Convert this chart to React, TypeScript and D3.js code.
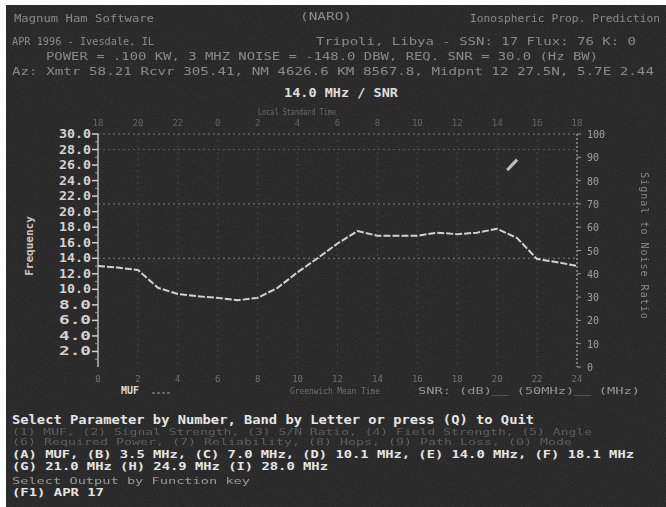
import * as d3 from "d3";

// MUF by UTC hour (MHz)
const hours = [0, 1, 2, 3, 4, 5, 6, 7, 8, 9, 10, 11, 12, 13, 14, 15, 16, 17, 18, 19, 20, 21, 22, 23, 24];
const mufValues = [13.0, 12.8, 12.5, 10.2, 9.4, 9.1, 8.9, 8.6, 8.9, 10.2, 12.2, 14.0, 15.9, 17.5, 16.9, 16.9, 16.9, 17.3, 17.1, 17.3, 17.8, 16.6, 13.9, 13.5, 13.0];

// fragment of the SNR trace (dB)
const snrHours = [20.5, 21.0];
const snrValues = [84.5, 89];

const freqTicks = [30, 28, 26, 24, 22, 20, 18, 16, 14, 12, 10, 8, 6, 4, 2];
const freqMinor = [29, 27, 25, 23, 21, 19, 17, 15, 13, 11, 9, 7, 5, 3, 1];
const snrTicks = [100, 90, 80, 70, 60, 50, 40, 30, 20, 10, 0];
const utcTicks = [0, 2, 4, 6, 8, 10, 12, 14, 16, 18, 20, 22, 24];
const localLabels = ["18", "20", "22", "0", "2", "4", "6", "8", "10", "12", "14", "16", "18"];
const gridFreqs = [30, 28, 21, 14];

const headerLines = [
  { text: "Magnum Ham Software", x: 14, y: 22, w: 140 },
  { text: "(NARO)", x: 300, y: 20, w: 52 },
  { text: "Ionospheric Prop. Prediction", x: 470, y: 22, w: 190 },
  { text: "APR 1996 - Ivesdale, IL", x: 12, y: 45, w: 142 },
  { text: "Tripoli, Libya - SSN: 17 Flux: 76 K: 0", x: 316, y: 45, w: 320 },
  { text: "POWER = .100 KW, 3 MHZ NOISE = -148.0 DBW, REQ. SNR = 30.0 (Hz BW)", x: 46, y: 60, w: 552 },
  { text: "Az: Xmtr 58.21 Rcvr 305.41, NM 4626.6 KM 8567.8, Midpnt 12 27.5N, 5.7E 2.44", x: 12, y: 75, w: 642 },
];

const footerLines = [
  { text: "Select Parameter by Number, Band by Letter or press (Q) to Quit", y: 424, w: 522, size: 12, kind: "bright" },
  { text: "(1) MUF, (2) Signal Strength, (3) S/N Ratio, (4) Field Strength, (5) Angle", y: 435, w: 580, size: 8.5, kind: "faint" },
  { text: "(6) Required Power, (7) Reliability, (8) Hops, (9) Path Loss, (0) Mode", y: 445, w: 560, size: 8.5, kind: "faint" },
  { text: "(A) MUF, (B) 3.5 MHz, (C) 7.0 MHz, (D) 10.1 MHz, (E) 14.0 MHz, (F) 18.1 MHz", y: 458, w: 622, size: 11, kind: "bright" },
  { text: "(G) 21.0 MHz (H) 24.9 MHz (I) 28.0 MHz", y: 470, w: 316, size: 11, kind: "bright" },
  { text: "Select Output by Function key", y: 484, w: 238, size: 8.5, kind: "dim" },
  { text: "(F1) APR 17", y: 496, w: 92, size: 11, kind: "bright" },
];

const W = 666;
const H = 507;
const plot = { left: 98, right: 577, top: 134, bottom: 367 };
const mono = "'DejaVu Sans Mono', 'Liberation Mono', monospace";
const footFill: Record<string, string> = { bright: "#e6e6e6", faint: "#5e5e5e", dim: "#9a9a9a" };

export default function App() {
  const x = d3.scaleLinear().domain([0, 24]).range([plot.left, plot.right]);
  const yF = d3.scaleLinear().domain([0, 30]).range([plot.bottom, plot.top]);
  const yS = d3.scaleLinear().domain([0, 100]).range([plot.bottom, plot.top]);

  const mufLine = d3.line<number>().x((_, i) => x(hours[i])).y((d) => yF(d));
  const snrLine = d3.line<number>().x((_, i) => x(snrHours[i])).y((d) => yS(d));

  return (
    <svg width={W} height={H} style={{ position: "fixed", left: 0, top: 0 }}>
      <defs>
        <filter id="grain" x="0" y="0" width="100%" height="100%">
          <feTurbulence type="fractalNoise" baseFrequency="0.9" numOctaves={2} seed={3} />
          <feColorMatrix type="saturate" values="0" />
        </filter>
        <filter id="soft" x="-5%" y="-50%" width="110%" height="200%">
          <feGaussianBlur stdDeviation="0.6" />
        </filter>
      </defs>
      <rect width={W} height={H} fill="#ffffff" />
      <rect x={6} y={5} width={W - 6} height={H - 5} fill="#222222" />
      <rect x={6} y={5} width={W - 6} height={H - 5} filter="url(#grain)" opacity={0.12} />

      <g filter="url(#soft)">
        {headerLines.map((l, i) => (
          <text key={i} x={l.x} y={l.y} textLength={l.w} lengthAdjust="spacingAndGlyphs"
            fontFamily={mono} fontSize={11} fill="#8a8a8a">{l.text}</text>
        ))}
        <text x={258} y={115} textLength={78} lengthAdjust="spacingAndGlyphs" fontFamily={mono}
          fontSize={9} fill="#6c6c6c">Local Standard Time</text>
        {utcTicks.map((h, i) => (
          <text key={i} x={x(h)} y={126} textAnchor="middle" fontFamily={mono} fontSize={9} fill="#646464">
            {localLabels[i]}
          </text>
        ))}
      </g>

      <text x={284} y={97} textLength={114} lengthAdjust="spacingAndGlyphs" fontFamily={mono}
        fontSize={12} fontWeight="bold" fill="#dedede">14.0 MHz / SNR</text>

      {/* gridlines */}
      {gridFreqs.map((f) => (
        <line key={f} x1={plot.left} x2={plot.right} y1={yF(f)} y2={yF(f)}
          stroke="#8a8a8a" strokeWidth={1} strokeDasharray="2 3" opacity={f === 28 ? 0.5 : 0.85} />
      ))}
      {utcTicks.slice(1, -1).map((h) => (
        <line key={h} x1={x(h)} x2={x(h)} y1={plot.top} y2={plot.bottom}
          stroke="#6a6a6a" strokeWidth={1} strokeDasharray="2 4" opacity={0.4} />
      ))}

      {/* left axis */}
      <line x1={plot.left} x2={plot.left} y1={plot.top} y2={plot.bottom} stroke="#bdbdbd" strokeWidth={1.5} />
      {freqTicks.map((f) => (
        <g key={f}>
          <line x1={plot.left - 6} x2={plot.left} y1={yF(f)} y2={yF(f)} stroke="#d0d0d0" strokeWidth={1.5} />
          <text x={plot.left - 7} y={yF(f) + 4} textAnchor="end" textLength={32} lengthAdjust="spacingAndGlyphs"
            fontFamily={mono} fontSize={12} fontWeight="bold" fill="#d2d2d2">{f.toFixed(1)}</text>
        </g>
      ))}
      {freqMinor.map((f) => (
        <line key={f} x1={plot.left - 3} x2={plot.left} y1={yF(f)} y2={yF(f)} stroke="#9a9a9a" strokeWidth={1} />
      ))}
      <text transform={`translate(33,${246}) rotate(-90)`} textAnchor="middle" fontFamily={mono}
        fontSize={11} fontWeight="bold" fill="#c8c8c8">Frequency</text>

      {/* right axis */}
      <line x1={plot.right} x2={plot.right} y1={plot.top} y2={plot.bottom}
        stroke="#a8a8a8" strokeWidth={1.2} strokeDasharray="2 2" />
      {snrTicks.map((s) => (
        <g key={s}>
          <line x1={plot.right} x2={plot.right + 4} y1={yS(s)} y2={yS(s)} stroke="#9a9a9a" strokeWidth={1} />
          <text x={plot.right + 10} y={yS(s) + 4} fontFamily={mono} fontSize={10} fill="#a0a0a0"
            filter="url(#soft)">{s}</text>
        </g>
      ))}
      <text transform={`translate(641,${246}) rotate(90)`} textAnchor="middle" fontFamily={mono}
        fontSize={10} fill="#888" letterSpacing={1} filter="url(#soft)">Signal to Noise Ratio</text>

      {/* bottom axis labels */}
      <g filter="url(#soft)">
        {utcTicks.map((h) => (
          <text key={h} x={x(h)} y={382} textAnchor="middle" fontFamily={mono} fontSize={9} fill="#727272">{h}</text>
        ))}
        <text x={290} y={394} textLength={90} lengthAdjust="spacingAndGlyphs" fontFamily={mono}
          fontSize={9} fill="#707070">Greenwich Mean Time</text>
        <text x={418} y={394} textLength={222} lengthAdjust="spacingAndGlyphs" fontFamily={mono}
          fontSize={9} fill="#969696">SNR: (dB)__  (50MHz)__  (MHz)</text>
      </g>

      {/* legend */}
      <text x={121} y={394} fontFamily={mono} fontSize={10} fontWeight="bold" fill="#dcdcdc">MUF</text>
      <line x1={152} x2={170} y1={393} y2={393} stroke="#9a9a9a" strokeWidth={1} strokeDasharray="3 2" />

      {/* series */}
      <path d={mufLine(mufValues) ?? ""} fill="none" stroke="#d2d2d2" strokeWidth={2}
        strokeDasharray="7 2" strokeLinejoin="round" />
      <path d={snrLine(snrValues) ?? ""} fill="none" stroke="#bcbcbc" strokeWidth={3} />

      {footerLines.map((l, i) => (
        <text key={i} x={12} y={l.y} textLength={l.w} lengthAdjust="spacingAndGlyphs" fontFamily={mono}
          fontSize={l.size} fontWeight={l.kind === "bright" ? "bold" : "normal"}
          fill={footFill[l.kind]}
          filter={l.kind === "bright" ? undefined : "url(#soft)"}>{l.text}</text>
      ))}
    </svg>
  );
}
